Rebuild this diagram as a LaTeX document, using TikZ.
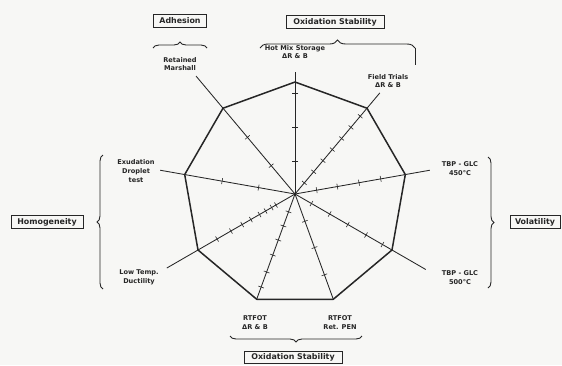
\documentclass[tikz,border=0pt]{standalone}
\usepackage{fontspec}
\setmainfont{DejaVu Sans}
\usetikzlibrary{calc,decorations.pathreplacing}
\definecolor{ink}{HTML}{262626}
\definecolor{paper}{HTML}{F7F7F5}
\begin{document}
\begin{tikzpicture}[x=1pt,y=-1pt,
  lbl/.style={font=\bfseries\fontsize{6.6}{8.8}\selectfont, align=center, text=ink, inner sep=0pt},
  box/.style={draw=ink, line width=0.7pt, font=\bfseries\fontsize{7.9}{9}\selectfont, minimum height=12.5pt, inner sep=0pt, text=ink},
  poly/.style={line width=1.5pt, draw=ink, line join=round},
  spoke/.style={line width=0.85pt, draw=ink},
  tickmark/.style={line width=0.6pt, draw=ink},
  bracket/.style={decorate, decoration={brace, amplitude=#1}, line width=0.9pt, draw=ink},
  bracket/.default=6pt]
\fill[paper] (0,0) rectangle (562,365);
\useasboundingbox (0,0) rectangle (562,365);

% centre and vertices of the nonagon
\coordinate (O) at (295,194);
\foreach \i/\a in {1/-90,2/-50,3/-10,4/30,5/70,6/110,7/150,8/190,9/230}
  \coordinate (v\i) at ($(O)+(\a:112)$);
% free ends of the spokes
\coordinate (e1) at ($(O)+(-90:122)$);
\coordinate (e2) at ($(O)+(-50:132)$);
\coordinate (e3) at ($(O)+(-10:137)$);
\coordinate (e4) at ($(O)+(30:151)$);
\coordinate (e5) at (v5);
\coordinate (e6) at (v6);
\coordinate (e7) at ($(O)+(150:148)$);
\coordinate (e8) at ($(O)+(190:137)$);
\coordinate (e9) at ($(O)+(230:154)$);

% spokes
\foreach \i in {1,...,9} \draw[spoke] (O) -- (e\i);

% tick marks
\foreach \a/\list in {-90/{33,67,101},
                      -50/{14.5,29,43.5,58,72.5,87,101.5},
                      -10/{22,43,65,87},
                      30/{19,40,61,82,101},
                      70/{29,57,86},
                      110/{19,34,49,65,83,99},
                      150/{22,27,34,41,51,61,74,90},
                      190/{37,74},
                      230/{37,74}}{
  \foreach \d in \list
    \draw[tickmark] ($(O)+(\a:\d)+(\a+90:3)$) -- ($(O)+(\a:\d)+(\a-90:3)$);
}

% polygon
\draw[poly] (v1) -- (v2) -- (v3) -- (v4) -- (v5) -- (v6) -- (v7) -- (v8) -- (v9) -- cycle;

% labels
\node[lbl] (hms) at (295,52) {Hot Mix Storage\\ΔR \& B};
\node[lbl] (ft) at (388,81) {Field Trials\\ΔR \& B};
\node[lbl] (rm) at (180,64) {Retained\\Marshall};
\node[lbl] (t450) at (460,168.5) {TBP - GLC\\450°C};
\node[lbl] (t500) at (460,277.5) {TBP - GLC\\500°C};
\node[lbl] (rtb) at (255,322.5) {RTFOT\\ΔR \& B};
\node[lbl] (rtp) at (340,322.5) {RTFOT\\Ret. PEN};
\node[lbl] (ltd) at (139,277) {Low Temp.\\Ductility};
\node[lbl] (exu) at (136,171) {Exudation\\Droplet\\test};

% category boxes
\node[box, minimum width=53pt] (adh) at (180,21) {Adhesion};
\node[box, minimum width=98pt] (oxt) at (335,22) {Oxidation Stability};
\node[box, minimum width=50pt] (vol) at (535,222) {Volatility};
\node[box, minimum width=72pt] (hom) at (47,222) {Homogeneity};
\node[box, minimum width=98pt] (oxb) at (293,357.5) {Oxidation Stability};

% braces
\coordinate (ba1) at (153,48); \coordinate (ba2) at (207,48);
\draw[bracket=6pt] (ba1) -- (ba2);
\coordinate (bo1) at (260,48); \coordinate (bo2) at (415,48); \coordinate (bo3) at (415,65);
\draw[bracket=8pt] (bo1) -- (bo2);
\draw[line width=0.9pt, draw=ink] (bo2) -- (bo3);
\coordinate (bv1) at (488,157); \coordinate (bv2) at (488,288);
\draw[bracket=6pt] (bv1) -- (bv2);
\coordinate (bh1) at (103,289); \coordinate (bh2) at (103,155);
\draw[bracket=6pt] (bh1) -- (bh2);
\coordinate (bb1) at (362,336); \coordinate (bb2) at (230,336);
\draw[bracket=6pt] (bb1) -- (bb2);
\end{tikzpicture}
\end{document}
